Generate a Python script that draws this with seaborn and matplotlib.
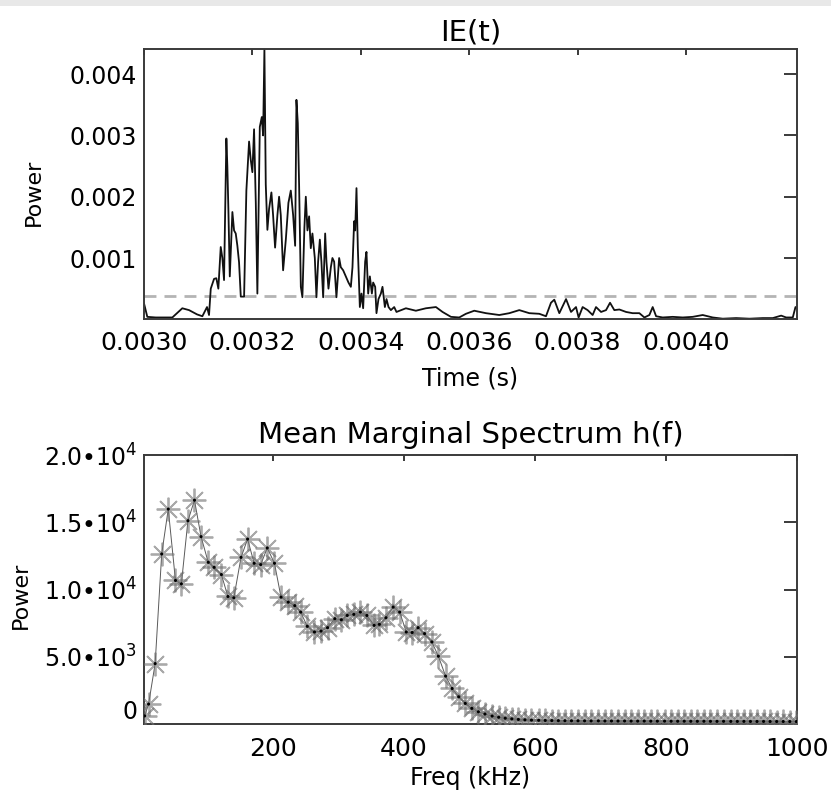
import matplotlib
matplotlib.use('Agg')
import matplotlib.pyplot as plt
import seaborn as sns
import pandas as pd
from matplotlib.patches import Rectangle
from matplotlib.ticker import FixedLocator, FixedFormatter

# ---------------- data: IE(t) ----------------
time_ms = [
    3.0000, 3.0061, 3.0216, 3.0523, 3.0707, 3.0831, 3.0979, 3.1077, 3.1163, 3.1200,
    3.1232, 3.1293, 3.1335, 3.1372, 3.1416, 3.1446, 3.1477, 3.1520, 3.1538, 3.1557,
    3.1583, 3.1631, 3.1662, 3.1693, 3.1723, 3.1754, 3.1786, 3.1847, 3.1889, 3.1939,
    3.1970, 3.2000, 3.2031, 3.2063, 3.2092, 3.2137, 3.2174, 3.2198, 3.2222, 3.2247,
    3.2277, 3.2308, 3.2351, 3.2382, 3.2419, 3.2462, 3.2493, 3.2524, 3.2567, 3.2617,
    3.2665, 3.2709, 3.2752, 3.2789, 3.2813, 3.2838, 3.2862, 3.2894, 3.2923, 3.2960,
    3.2986, 3.3016, 3.3047, 3.3078, 3.3108, 3.3152, 3.3182, 3.3213, 3.3245, 3.3274,
    3.3306, 3.3343, 3.3367, 3.3404, 3.3448, 3.3477, 3.3509, 3.3551, 3.3601, 3.3632,
    3.3675, 3.3725, 3.3773, 3.3817, 3.3847, 3.3878, 3.3897, 3.3921, 3.3946, 3.3983,
    3.4013, 3.4044, 3.4081, 3.4105, 3.4137, 3.4168, 3.4205, 3.4229, 3.4266, 3.4290,
    3.4327, 3.4371, 3.4401, 3.4445, 3.4475, 3.4512, 3.4556, 3.4617, 3.4659, 3.4833,
    3.5017, 3.5202, 3.5387, 3.5509, 3.5664, 3.5817, 3.5941, 3.6094, 3.6310, 3.6556,
    3.6741, 3.6925, 3.7110, 3.7294, 3.7418, 3.7510, 3.7571, 3.7664, 3.7788, 3.7880,
    3.7972, 3.8020, 3.8094, 3.8186, 3.8279, 3.8341, 3.8434, 3.8526, 3.8600, 3.8679,
    3.8772, 3.8896, 3.9017, 3.9141, 3.9234, 3.9326, 3.9387, 3.9450, 3.9571, 3.9756,
    3.9941, 4.0125, 4.0310, 4.0495, 4.0680, 4.0927, 4.1173, 4.1418, 4.1603, 4.1758,
    4.1850, 4.1972, 4.2022,
]
ie_power = [
    0.00026, 0.00004, 0.00003, 0.00003, 0.00018, 0.00015, 0.00008, 0.00005, 0.00020, 0.00007,
    0.00050, 0.00066, 0.00067, 0.00050, 0.00118, 0.00100, 0.00064, 0.00295, 0.00250, 0.00180,
    0.00070, 0.00175, 0.00145, 0.00140, 0.00120, 0.00093, 0.00037, 0.00037, 0.00210, 0.00290,
    0.00260, 0.00240, 0.00310, 0.00190, 0.00042, 0.00314, 0.00330, 0.00300, 0.00441, 0.00220,
    0.00146, 0.00180, 0.00207, 0.00170, 0.00117, 0.00170, 0.00200, 0.00170, 0.00080, 0.00130,
    0.00190, 0.00210, 0.00170, 0.00120, 0.00358, 0.00320, 0.00220, 0.00053, 0.00036, 0.00150,
    0.00200, 0.00145, 0.00168, 0.00116, 0.00140, 0.00100, 0.00036, 0.00094, 0.00130, 0.00094,
    0.00036, 0.00140, 0.00094, 0.00050, 0.00085, 0.00100, 0.00094, 0.00036, 0.00100, 0.00085,
    0.00080, 0.00070, 0.00060, 0.00053, 0.00085, 0.00160, 0.00145, 0.00214, 0.00116, 0.00020,
    0.00042, 0.00018, 0.00094, 0.00110, 0.00042, 0.00070, 0.00042, 0.00060, 0.00053, 0.00010,
    0.00033, 0.00042, 0.00053, 0.00020, 0.00033, 0.00020, 0.00015, 0.00020, 0.00012, 0.00018,
    0.00014, 0.00018, 0.00020, 0.00012, 0.00004, 0.00003, 0.00009, 0.00014, 0.00010, 0.00007,
    0.00010, 0.00015, 0.00010, 0.00009, 0.00005, 0.00027, 0.00032, 0.00010, 0.00033, 0.00012,
    0.00020, 0.00003, 0.00020, 0.00015, 0.00007, 0.00020, 0.00012, 0.00015, 0.00027, 0.00015,
    0.00016, 0.00012, 0.00010, 0.00010, 0.00003, 0.00007, 0.00020, 0.00005, 0.00003, 0.00004,
    0.00003, 0.00004, 0.00007, 0.00003, 0.00001, 0.00002, 0.00001, 0.00002, 0.00002, 0.00006,
    0.00003, 0.00003, 0.00020,
]
ie_threshold = 0.000374

# ---------------- data: mean marginal spectrum ----------------
freq_khz = [
    5, 11, 21, 31, 41, 52, 61, 71, 81, 91,
    102, 111, 122, 132, 141, 152, 162, 172, 182, 192,
    203, 213, 224, 234, 243, 253, 264, 274, 284, 295,
    305, 314, 324, 334, 344, 355, 363, 373, 384, 394,
    404, 413, 422, 432, 443, 453, 464, 474, 484, 494,
    504, 514, 524, 535, 545, 555, 565, 575, 585, 595,
    606, 616, 626, 636, 646, 656, 666, 676, 686, 697,
    707, 717, 727, 737, 747, 757, 767, 777, 787, 798,
    808, 818, 828, 838, 848, 858, 868, 878, 888, 899,
    909, 919, 929, 939, 949, 959, 969, 979, 989, 999,
]
spec_power = [
    600, 1480, 4490, 12640, 15980, 10670, 10420, 15110, 16640, 13930,
    12020, 11650, 11110, 9480, 9380, 12390, 13750, 11950, 11850, 13090,
    11950, 9430, 9060, 8800, 8320, 7260, 6840, 6910, 7160, 7830,
    7750, 8070, 8150, 8320, 8070, 7330, 7410, 7900, 8690, 8320,
    6840, 6800, 7160, 6720, 6100, 5040, 3560, 2640, 2020, 1530,
    1160, 910, 740, 590, 500, 430, 380, 340, 310, 290,
    275, 265, 255, 250, 246, 240, 238, 236, 230, 233,
    226, 224, 221, 225, 218, 215, 219, 212, 210, 213,
    207, 205, 208, 203, 200, 204, 198, 196, 199, 194,
    192, 195, 190, 188, 191, 186, 185, 187, 184, 182,
]

# ---------------- ticks / labels ----------------
top_xticks = [0.0030, 0.0032, 0.0034, 0.0036, 0.0038, 0.0040]
top_xticklabels = ['0.0030', '0.0032', '0.0034', '0.0036', '0.0038', '0.0040']
top_yticks = [0.001, 0.002, 0.003, 0.004]
top_yticklabels = ['0.001', '0.002', '0.003', '0.004']
bot_xticks = [200, 400, 600, 800, 1000]
bot_xticklabels = ['200', '400', '600', '800', '1000']
bot_yticks = [0, 5000, 10000, 15000, 20000]
bot_yticklabels = ['0', '5.0•10$^{3}$', '1.0•10$^{4}$', '1.5•10$^{4}$', '2.0•10$^{4}$']

sns.set_theme(style='white')
plt.rcParams['font.family'] = ['DejaVu Sans']
plt.rcParams['mathtext.default'] = 'regular'

W, H = 831, 796
fig = plt.figure(figsize=(W / 100, H / 100), dpi=100)
fig.patch.set_facecolor('white')
fig.add_artist(Rectangle((0, 1 - 6 / H), 1, 6 / H, transform=fig.transFigure,
                         facecolor='#e8e8e8', edgecolor='none'))

ax1 = fig.add_axes([144 / W, 1 - 319 / H, 653 / W, 270 / H])
ax2 = fig.add_axes([144 / W, 1 - 724 / H, 653 / W, 269 / H])

spine_col = '#3a3a3a'


def style_axes(ax):
    for s in ax.spines.values():
        s.set_visible(True)
        s.set_color(spine_col)
        s.set_linewidth(1.4)
    ax.set_facecolor('white')
    ax.tick_params(which='both', direction='in', top=True, right=True,
                   color=spine_col, width=1.4, labelcolor='black')
    ax.tick_params(axis='x', length=4, labelsize=18, pad=9)
    ax.tick_params(axis='y', length=9.5, labelsize=17, pad=5)


# ---- top panel ----
df_ie = pd.DataFrame({'t': [v * 1e-3 for v in time_ms], 'p': ie_power})
ax1.axhline(ie_threshold, color='#b4b4b4', lw=2.0, ls=(0, (4.3, 2.9)), zorder=1)
sns.lineplot(data=df_ie, x='t', y='p', ax=ax1, color='#111111', lw=1.3,
             estimator=None, zorder=2)
ax1.set_xlim(0.0030, 0.004205)
ax1.set_ylim(0.000005, 0.00441)
style_axes(ax1)
ax1.xaxis.set_major_locator(FixedLocator(top_xticks))
ax1.xaxis.set_major_formatter(FixedFormatter(top_xticklabels))
ax1.yaxis.set_major_locator(FixedLocator(top_yticks))
ax1.yaxis.set_major_formatter(FixedFormatter(top_yticklabels))
ax1.set_title('IE(t)', fontsize=21, pad=6, color='black')
ax1.set_xlabel('Time (s)', fontsize=17, labelpad=8, color='black')
ax1.set_ylabel('Power', fontsize=16, color='black')
ax1.yaxis.set_label_coords(-0.153, 0.47)

# ---- bottom panel ----
df_sp = pd.DataFrame({'f': freq_khz, 'p': spec_power})
sns.lineplot(data=df_sp, x='f', y='p', ax=ax2, color='#5a5a5a', lw=0.7,
             estimator=None, zorder=2)
sns.lineplot(data=df_sp, x='f', y='p', ax=ax2, estimator=None, linestyle='none',
             marker=(8, 2, 0), markersize=17, markeredgecolor='#707070',
             markeredgewidth=1.3, alpha=0.6, zorder=3)
sns.scatterplot(data=df_sp, x='f', y='p', ax=ax2, s=5, color='black',
                edgecolor='none', zorder=4)
ax2.set_xlim(4, 1000)
ax2.set_ylim(0, 20000)
style_axes(ax2)
ax2.xaxis.set_major_locator(FixedLocator(bot_xticks))
ax2.xaxis.set_major_formatter(FixedFormatter(bot_xticklabels))
ax2.yaxis.set_major_locator(FixedLocator(bot_yticks))
ax2.yaxis.set_major_formatter(FixedFormatter(bot_yticklabels))
ax2.set_title('Mean Marginal Spectrum h(f)', fontsize=21, pad=9, color='black')
ax2.set_xlabel('Freq (kHz)', fontsize=17, labelpad=4, color='black')
ax2.set_ylabel('Power', fontsize=16, color='black')
ax2.yaxis.set_label_coords(-0.173, 0.48)

fig.canvas.draw()
ylabs = ax2.get_yticklabels()
ylabs[0].set_verticalalignment('bottom')

fig.savefig('out.png', dpi=100, facecolor='white')
